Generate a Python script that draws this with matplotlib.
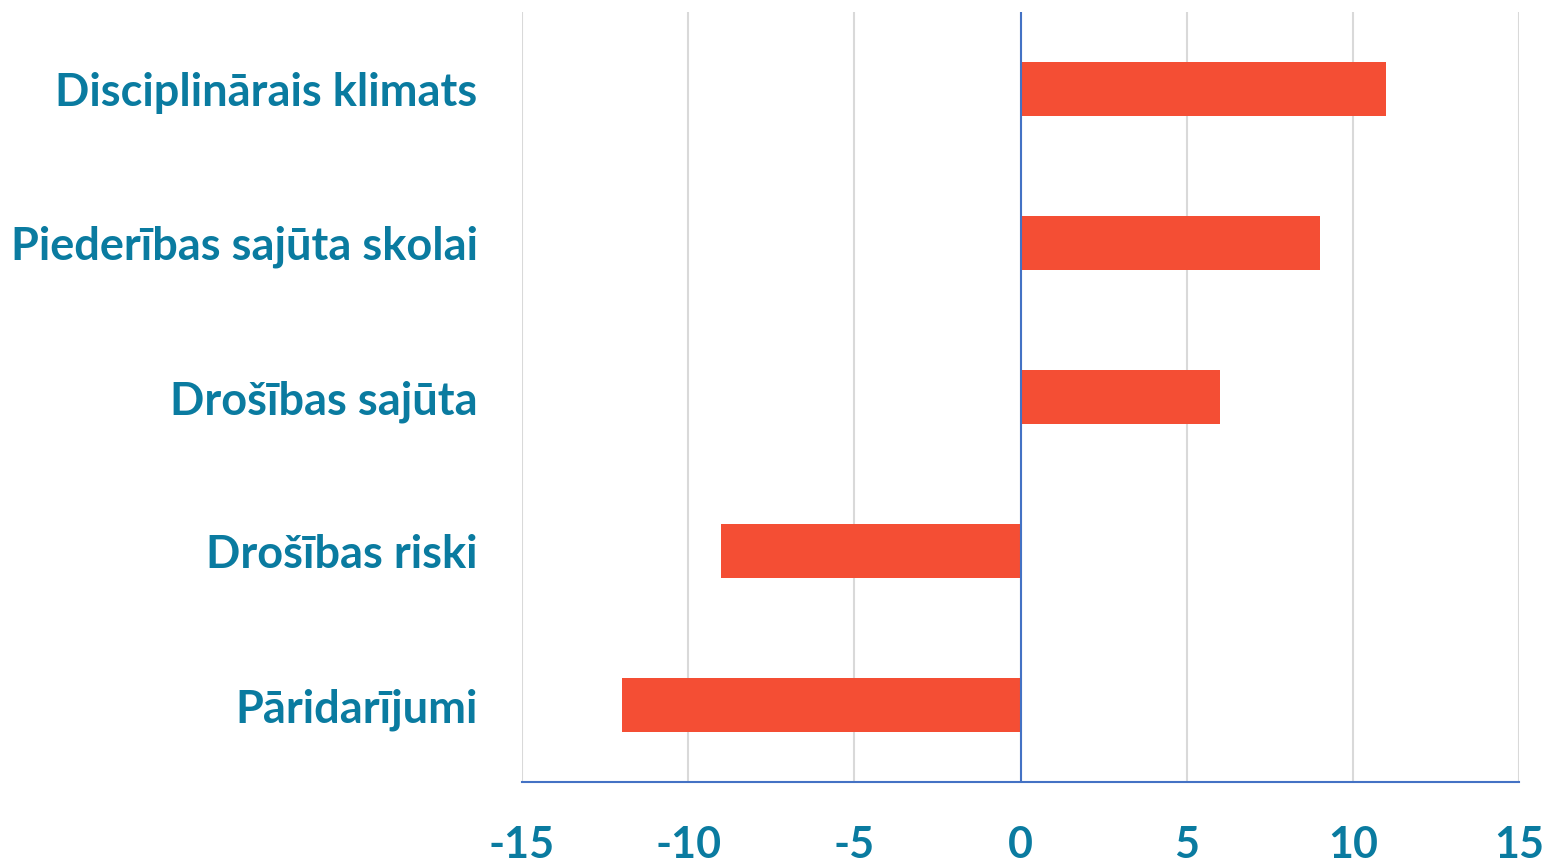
import matplotlib
matplotlib.use("Agg")
import matplotlib.pyplot as plt

categories = ["Pāridarījumi", "Drošības riski", "Drošības sajūta",
              "Piederības sajūta skolai", "Disciplinārais klimats"]
values = [-12, -9, 6, 9, 11]
xticks = [-15, -10, -5, 0, 5, 10, 15]

text_color = "#0A7BA0"
bar_color = "#F44E34"

plt.rcParams['font.family'] = ['Lato', 'DejaVu Sans']

fig = plt.figure(figsize=(15.48, 8.63), dpi=100)
ax = fig.add_axes([522/1548, 1-782/863, (1519-522)/1548, (782-12)/863])

y = list(range(len(categories)))
ax.barh(y, values, height=0.35, color=bar_color, zorder=3)

ax.set_xlim(-15, 15)
ax.set_ylim(-0.5, len(categories)-0.5)
ax.set_xticks(xticks)
ax.set_xticklabels([str(t) for t in xticks])
ax.set_yticks(y)
ax.set_yticklabels(categories)

for t in ax.get_xticklabels():
    t.set_fontsize(31)
    t.set_fontweight('bold')
    t.set_color(text_color)
for t in ax.get_yticklabels():
    t.set_fontsize(32.5)
    t.set_fontweight('bold')
    t.set_color(text_color)

ax.tick_params(axis='x', length=0, pad=31)
ax.tick_params(axis='y', length=0, pad=32)

ax.grid(axis='x', color='#D9D9D9', linewidth=1.5, zorder=0)
ax.axvline(0, color='#4472C4', linewidth=1.5, zorder=4)
for s in ['top', 'right', 'left']:
    ax.spines[s].set_visible(False)
ax.spines['bottom'].set_color('#4472C4')
ax.spines['bottom'].set_linewidth(1.5)

fig.savefig("out.png", dpi=100)
